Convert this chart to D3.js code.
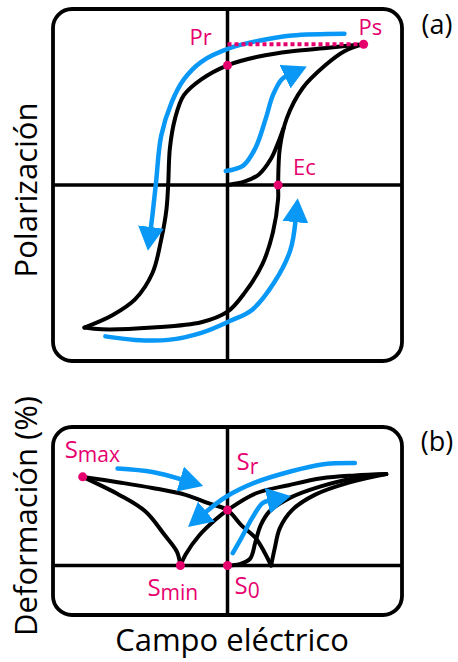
<!DOCTYPE html>
<html><head><meta charset="utf-8">
<script src="https://cdn.jsdelivr.net/npm/d3@7"></script>
<style>body{margin:0;background:#fff}svg{display:block}</style>
</head><body>
<svg id="c" width="458" height="662"></svg>
<script>
// ---------- Panel (a): polarization vs electric field (E, P) ----------
const polUpperBranch = [[0.78,0.80],[0.58,0.78],[0.37,0.76],[0.18,0.73],[0.00,0.68],[-0.15,0.60],[-0.25,0.51],[-0.30,0.38],[-0.33,0.21],[-0.34,0.00],[-0.35,-0.14],[-0.38,-0.31],[-0.43,-0.50],[-0.53,-0.65],[-0.66,-0.74],[-0.82,-0.81]];
const polLowerBranch = [[-0.82,-0.81],[-0.72,-0.82],[-0.43,-0.81],[-0.15,-0.78],[0.00,-0.72],[0.10,-0.61],[0.20,-0.45],[0.26,-0.27],[0.29,-0.08],[0.29,0.00],[0.30,0.21],[0.34,0.38],[0.43,0.55],[0.56,0.68],[0.67,0.76],[0.78,0.80]];
const polVirgin = [[0.00,0.00],[0.10,0.02],[0.18,0.06],[0.25,0.15],[0.29,0.24],[0.32,0.32]];
const polArrowDown = [[0.67,0.86],[0.37,0.85],[0.18,0.82],[0.02,0.78],[-0.15,0.70],[-0.25,0.60],[-0.32,0.47],[-0.38,0.28],[-0.41,0.01],[-0.43,-0.17],[-0.44,-0.25]];
const polArrowUp = [[-0.70,-0.86],[-0.53,-0.88],[-0.34,-0.88],[-0.15,-0.84],[0.02,-0.77],[0.14,-0.71],[0.27,-0.55],[0.36,-0.37],[0.39,-0.20]];
const polArrowVirgin = [[-0.01,0.08],[0.09,0.11],[0.16,0.21],[0.22,0.38],[0.26,0.51],[0.31,0.60],[0.34,0.62]];
const polPoints = [{name:"Pr",E:0.00,P:0.68},{name:"Ps",E:0.78,P:0.80},{name:"Ec",E:0.29,P:0.00}];

// ---------- Panel (b): strain vs electric field (E, S) ----------
const strainDownA = [[-0.83,0.64],[-0.62,0.60],[-0.43,0.56],[-0.24,0.51],[-0.11,0.45],[0.00,0.40],[0.08,0.29],[0.16,0.20],[0.21,0.10],[0.25,0.00]];
const strainUpA = [[0.25,0.00],[0.27,0.12],[0.30,0.27],[0.37,0.40],[0.50,0.51],[0.70,0.60],[0.91,0.66]];
const strainDownB = [[-0.83,0.64],[-0.62,0.51],[-0.47,0.39],[-0.36,0.22],[-0.29,0.10],[-0.27,0.00]];
const strainUpB = [[-0.27,0.00],[-0.24,0.08],[-0.16,0.22],[-0.07,0.33],[0.00,0.40],[0.16,0.52],[0.35,0.58],[0.54,0.63],[0.73,0.65],[0.91,0.66]];
const strainVirgin = [[0.00,0.00],[0.07,0.01],[0.13,0.05],[0.16,0.17],[0.19,0.29],[0.24,0.39],[0.36,0.49],[0.53,0.57],[0.73,0.63],[0.91,0.66]];
const strainArrowRight = [[-0.63,0.70],[-0.43,0.675],[-0.26,0.62]];
const strainArrowLeft = [[0.73,0.74],[0.54,0.73],[0.35,0.675],[0.16,0.60],[-0.01,0.495],[-0.13,0.38]];
const strainArrowUp = [[0.03,0.09],[0.08,0.20],[0.14,0.34],[0.20,0.45],[0.24,0.47]];
const strainPoints = [{name:"S",sub:"max",E:-0.83,S:0.64},{name:"S",sub:"r",E:0.00,S:0.40},{name:"S",sub:"min",E:-0.27,S:0.00},{name:"S",sub:"0",E:0.00,S:0.00}];

// ---------- Text ----------
const panelLabels = ["(a)","(b)"];
const axisTitles = {pol:"Polarización", strain:"Deformación (%)", field:"Campo eléctrico"};

// ---------- Drawing ----------
const BLACK="#000", PINK="#e6006e", BLUE="#0a98f7", FONT="'Open Sans', sans-serif";
const svg = d3.select("#c");

const x = d3.scaleLinear().domain([-1,1]).range([53,402]);
const yA = d3.scaleLinear().domain([-1,1]).range([361,9]);
const yB = d3.scaleLinear().domain([-0.357,1]).range([615,427]);

const defs = svg.append("defs");
defs.append("marker").attr("id","ah").attr("markerUnits","userSpaceOnUse")
  .attr("viewBox","0 -13 24 26").attr("refX",2).attr("refY",0)
  .attr("markerWidth",24).attr("markerHeight",26).attr("orient","auto")
  .append("path").attr("d","M0,-13L24,0L0,13Z").attr("fill",BLUE);

function frame(y){
  const g = svg.append("g");
  const [x0,x1]=x.range(), [y1,y0]=y.range();
  g.append("rect").attr("x",x0).attr("y",y0).attr("width",x1-x0).attr("height",y1-y0)
    .attr("rx",19).attr("fill","none").attr("stroke",BLACK).attr("stroke-width",3.8);
  g.append("line").attr("x1",x(0)).attr("x2",x(0)).attr("y1",y0).attr("y2",y1).attr("stroke",BLACK).attr("stroke-width",3.5);
  g.append("line").attr("x1",x0).attr("x2",x1).attr("y1",y(0)).attr("y2",y(0)).attr("stroke",BLACK).attr("stroke-width",3.5);
}
frame(yA); frame(yB);

const lineA = d3.line().x(d=>x(d[0])).y(d=>yA(d[1])).curve(d3.curveCatmullRom.alpha(0.5));
const lineB = d3.line().x(d=>x(d[0])).y(d=>yB(d[1])).curve(d3.curveCatmullRom.alpha(0.5));

function curve(gen, data, color, w, arrow){
  const p = svg.append("path").attr("d",gen(data)).attr("fill","none").attr("stroke",color)
    .attr("stroke-width",w).attr("stroke-linecap","round").attr("stroke-linejoin","round");
  if(arrow) p.attr("marker-end","url(#ah)");
  return p;
}

// panel a
[polUpperBranch, polLowerBranch, polVirgin].forEach(d=>curve(lineA,d,BLACK,4));
[polArrowDown, polArrowUp, polArrowVirgin].forEach(d=>curve(lineA,d,BLUE,4.5,true));
const ps = polPoints.find(p=>p.name==="Ps");
svg.append("line").attr("x1",x(0)).attr("x2",x(ps.E)).attr("y1",yA(ps.P)).attr("y2",yA(ps.P))
  .attr("stroke",PINK).attr("stroke-width",4).attr("stroke-dasharray","4,3");
svg.selectAll(".pa").data(polPoints).join("circle").attr("cx",d=>x(d.E)).attr("cy",d=>yA(d.P)).attr("r",4.5).attr("fill",PINK);
const aOff = {Pr:[-38,-20], Ps:[-5,-9], Ec:[15,-10]};
svg.selectAll(".pl").data(polPoints).join("text").attr("x",d=>x(d.E)+aOff[d.name][0]).attr("y",d=>yA(d.P)+aOff[d.name][1])
  .attr("font-family",FONT).attr("font-size",22).attr("fill",PINK).text(d=>d.name);

// panel b
[strainDownA, strainUpA, strainDownB, strainUpB, strainVirgin].forEach(d=>curve(lineB,d,BLACK,4));
[strainArrowRight, strainArrowLeft, strainArrowUp].forEach(d=>curve(lineB,d,BLUE,4.5,true));
svg.selectAll(".pb").data(strainPoints).join("circle").attr("cx",d=>x(d.E)).attr("cy",d=>yB(d.S)).attr("r",4.5).attr("fill",PINK);
const bOff = {max:[-18,-19], r:[9,-40], min:[-33,30], "0":[7,28]};
const bt = svg.selectAll(".pbl").data(strainPoints).join("text").attr("x",d=>x(d.E)+bOff[d.sub][0]).attr("y",d=>yB(d.S)+bOff[d.sub][1])
  .attr("font-family",FONT).attr("fill",PINK);
bt.append("tspan").attr("font-size",24).text(d=>d.name);
bt.append("tspan").attr("font-size",21).attr("dy",4).text(d=>d.sub);

// panel letters
svg.selectAll(".plab").data(panelLabels).join("text")
  .attr("x",437).attr("y",(d,i)=> i===0 ? yA.range()[1]+25 : yB.range()[1]+24)
  .attr("text-anchor","middle").attr("font-family",FONT).attr("font-size",27).attr("fill",BLACK).text(d=>d);

// axis titles
svg.append("text").attr("transform",`translate(37,${(yA.range()[0]+yA.range()[1])/2+5}) rotate(-90)`)
  .attr("text-anchor","middle").attr("font-family",FONT).attr("font-size",31).attr("fill",BLACK).text(axisTitles.pol);
svg.append("text").attr("transform",`translate(37,516) rotate(-90)`)
  .attr("text-anchor","middle").attr("font-family",FONT).attr("font-size",31).attr("fill",BLACK).text(axisTitles.strain);
svg.append("text").attr("x",232).attr("y",651)
  .attr("text-anchor","middle").attr("font-family",FONT).attr("font-size",31).attr("fill",BLACK).text(axisTitles.field);
</script>
</body></html>
